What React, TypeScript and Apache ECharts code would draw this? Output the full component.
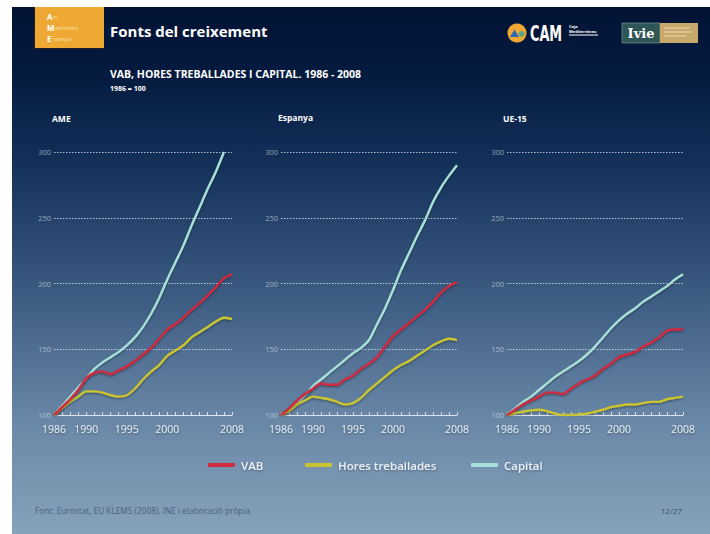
import React, { useEffect, useRef } from "react";
import * as echarts from "echarts";

const years = [1986, 1987, 1988, 1989, 1990, 1991, 1992, 1993, 1994, 1995, 1996, 1997, 1998, 1999, 2000, 2001, 2002, 2003, 2004, 2005, 2006, 2007, 2008];
const yearLabels = [1986, 1990, 1995, 2000, 2008];
const seriesNames = ["VAB", "Hores treballades", "Capital"];
const panelTitles = ["AME", "Espanya", "UE-15"];

const ameVAB = [100, 106, 112, 119, 128, 132, 133, 131, 134, 137, 141, 146, 151, 158, 165, 169, 174, 180, 185, 191, 197, 204, 207];
const ameHores = [100, 105, 110, 114, 118, 118, 117, 115, 114, 115, 120, 127, 133, 138, 145, 149, 153, 159, 163, 167, 171, 174, 173];
const ameCapital = [100, 107, 114, 121, 128, 135, 140, 144, 148, 153, 159, 167, 177, 189, 203, 216, 229, 244, 258, 272, 285, 300, null];

const espVAB = [100, 105, 111, 116, 120, 124, 123, 123, 127, 130, 135, 139, 144, 152, 160, 165, 170, 175, 180, 186, 193, 198, 201];
const espHores = [100, 103, 108, 111, 114, 113, 112, 110, 108, 109, 113, 119, 124, 129, 134, 138, 141, 145, 149, 153, 156, 158, 157];
const espCapital = [100, 104, 109, 115, 122, 127, 132, 137, 142, 147, 151, 157, 169, 181, 195, 210, 223, 236, 248, 262, 273, 282, 290];

const ueVAB = [100, 104, 108, 111, 114, 117, 117, 116, 120, 124, 127, 130, 135, 139, 144, 146, 148, 152, 155, 159, 164, 165, 165];
const ueHores = [100, 101.5, 102.5, 103.5, 104, 103, 101, 100, 100, 100.5, 101, 102.5, 104, 106, 107, 108, 108, 109, 110, 110, 112, 113, 114];
const ueCapital = [100, 105, 110, 114, 119, 124, 129, 133, 137, 141, 146, 152, 159, 166, 172, 177, 181, 186, 190, 194, 198, 203, 207];

const panels = [
  [ameVAB, ameHores, ameCapital],
  [espVAB, espHores, espCapital],
  [ueVAB, ueHores, ueCapital],
];

const colors = ["#cf2a40", "#c9c431", "#a6e0d8"];
const FONT = "'Open Sans', 'DejaVu Sans', sans-serif";

export default function App() {
  const ref = useRef<HTMLDivElement>(null);
  useEffect(() => {
    if (!ref.current) return;
    const chart = echarts.init(ref.current, null, { renderer: "svg" });
    const gridLeft = [54, 281, 507];
    const gridW = [178, 176, 176];
    const grids = gridLeft.map((l, i) => ({ left: l, top: 152, width: gridW[i], height: 263 }));
    const xAxes = grids.map((_, i) => ({
      type: "value",
      gridIndex: i,
      min: 1986,
      max: 2008,
      interval: 1,
      axisLine: { lineStyle: { color: "rgba(235,240,248,0.85)", width: 1 } },
      axisTick: { inside: true, length: 3, lineStyle: { color: "rgba(235,240,248,0.85)" } },
      axisLabel: {
        color: "#e4ebf3",
        fontSize: 10.5,
        fontFamily: FONT,
        margin: 8,
        showMinLabel: true,
        showMaxLabel: true,
        textShadowColor: "rgba(0,0,0,0.35)",
        textShadowBlur: 2,
        textShadowOffsetY: 1,
        formatter: (v: number) => (yearLabels.includes(v) ? String(v) : ""),
      },
      splitLine: { show: false },
    }));
    const yAxes = grids.map((_, i) => ({
      type: "value",
      gridIndex: i,
      min: 100,
      max: 300,
      interval: 50,
      axisLine: { show: false },
      axisTick: { show: false },
      axisLabel: { color: "rgba(225,232,242,0.6)", fontSize: 7.5, fontFamily: FONT, margin: 3 },
      splitLine: { show: true, lineStyle: { color: "rgba(235,240,248,0.75)", type: [1.5, 1.5], width: 1 } },
    }));
    const series: any[] = [];
    panels.forEach((p, gi) => {
      p.forEach((vals, si) => {
        series.push({
          type: "line",
          name: seriesNames[si],
          xAxisIndex: gi,
          yAxisIndex: gi,
          data: years.map((y, k) => [y, vals[k]]),
          smooth: 0.3,
          showSymbol: false,
          symbol: "none",
          z: si === 2 ? 3 : 4 - si + 2,
          lineStyle: {
            color: colors[si],
            width: 2.4,
            shadowColor: "rgba(0,0,0,0.45)",
            shadowBlur: 2,
            shadowOffsetY: 1,
          },
          itemStyle: { color: colors[si] },
        });
      });
    });
    const legendPos = [203, 300, 466];
    const legends = seriesNames.map((n, i) => ({
      data: [{ name: n, icon: "roundRect" }],
      left: legendPos[i],
      top: 454,
      itemWidth: 27,
      itemHeight: 4,
      itemGap: 0,
      selectedMode: false,
      textStyle: {
        color: "#e8eef5",
        fontSize: 11.5,
        fontWeight: 600,
        fontFamily: FONT,
        textShadowColor: "rgba(0,0,0,0.35)",
        textShadowBlur: 2,
        textShadowOffsetY: 1,
        padding: [0, 0, 0, 1],
      },
    }));
    const graphic: any[] = [
      {
        type: "rect",
        z: -10,
        shape: { x: 12, y: 7, width: 698, height: 527 },
        style: {
          fill: new echarts.graphic.LinearGradient(0, 0, 0, 1, [
            { offset: 0, color: "#021335" },
            { offset: 0.12, color: "#041a3e" },
            { offset: 0.3, color: "#14315a" },
            { offset: 0.55, color: "#3d5c82" },
            { offset: 0.78, color: "#6886a6" },
            { offset: 1, color: "#87a3bb" },
          ]),
        },
        silent: true,
      },
      // AME logo
      { type: "rect", z: -5, shape: { x: 34, y: 7, width: 70, height: 42 }, style: { fill: "#3a2a10", opacity: 0.5 } },
      { type: "rect", z: -4, shape: { x: 35, y: 7, width: 69, height: 41 }, style: { fill: "#eea934" } },
      { type: "text", x: 47, y: 16, style: { text: "A", fill: "#ffffff", font: `bold 8px ${FONT}`, verticalAlign: "middle" } },
      { type: "text", x: 53, y: 16.5, style: { text: "rc", fill: "#fbe2b0", font: `5px ${FONT}`, verticalAlign: "middle" } },
      { type: "text", x: 47, y: 27, style: { text: "M", fill: "#ffffff", font: `bold 8px ${FONT}`, verticalAlign: "middle" } },
      { type: "text", x: 55, y: 27.5, style: { text: "editerrani", fill: "#fbe2b0", font: `5px ${FONT}`, verticalAlign: "middle" } },
      { type: "text", x: 47, y: 38, style: { text: "E", fill: "#ffffff", font: `bold 8px ${FONT}`, verticalAlign: "middle" } },
      { type: "text", x: 53, y: 38.5, style: { text: "spanyol", fill: "#fbe2b0", font: `5px ${FONT}`, verticalAlign: "middle" } },
      // Titles
      { type: "text", x: 110, y: 31, style: { text: "Fonts del creixement", fill: "#ffffff", font: `bold 15px ${FONT}`, verticalAlign: "middle" } },
      { type: "text", x: 110, y: 74, style: { text: "VAB, HORES TREBALLADES I CAPITAL. 1986 - 2008", fill: "#ffffff", font: `bold 10.5px ${FONT}`, verticalAlign: "middle" } },
      { type: "text", x: 110, y: 88, style: { text: "1986 = 100", fill: "#ffffff", font: `bold 7px ${FONT}`, verticalAlign: "middle" } },
      // Panel titles
      { type: "text", x: 52, y: 118, style: { text: panelTitles[0], fill: "#ffffff", font: `bold 8.5px ${FONT}`, verticalAlign: "middle" } },
      { type: "text", x: 278, y: 117, style: { text: panelTitles[1], fill: "#ffffff", font: `bold 8.5px ${FONT}`, verticalAlign: "middle" } },
      { type: "text", x: 503, y: 118, style: { text: panelTitles[2], fill: "#ffffff", font: `bold 8.5px ${FONT}`, verticalAlign: "middle" } },
      // CAM logo
      { type: "circle", shape: { cx: 517, cy: 33, r: 9.5 }, style: { fill: "#f0a832" } },
      { type: "polygon", shape: { points: [[510, 37], [514.5, 29.5], [519, 37]] }, style: { fill: "#2f68b0" } },
      { type: "circle", shape: { cx: 521.5, cy: 34, r: 3 }, style: { fill: "#5aa585" } },
      { type: "text", x: 530, y: 33, scaleX: 0.68, style: { text: "CAM", fill: "#ffffff", font: `bold 21px 'DejaVu Sans Condensed', 'Liberation Sans', sans-serif`, verticalAlign: "middle" } },
      { type: "text", x: 569, y: 26, style: { text: "Caja", fill: "#ffffff", font: `bold 4px ${FONT}`, verticalAlign: "middle", lineHeight: 4 } },
      { type: "text", x: 569, y: 31.5, style: { text: "Mediterráneo", fill: "#ffffff", font: `bold 4px ${FONT}`, verticalAlign: "middle", lineHeight: 4 } },
      { type: "line", shape: { x1: 569, y1: 35, x2: 598, y2: 35 }, style: { stroke: "#ffffff", lineWidth: 1 } },
      // Ivie logo
      { type: "rect", shape: { x: 622, y: 23, width: 38, height: 20 }, style: { fill: "#2f5656", stroke: "#6a8a86", lineWidth: 0.8 } },
      { type: "text", x: 641, y: 33.5, style: { text: "Ivie", fill: "#ffffff", font: `bold 13px 'DejaVu Serif', 'Liberation Serif', serif`, align: "center", verticalAlign: "middle" } },
      { type: "rect", shape: { x: 660, y: 23, width: 38, height: 20 }, style: { fill: "#c8a96c" } },
      { type: "line", shape: { x1: 664, y1: 28, x2: 690, y2: 28 }, style: { stroke: "#e6d3aa", lineWidth: 1.2 } },
      { type: "line", shape: { x1: 664, y1: 32, x2: 692, y2: 32 }, style: { stroke: "#e6d3aa", lineWidth: 1.2 } },
      { type: "line", shape: { x1: 664, y1: 36, x2: 686, y2: 36 }, style: { stroke: "#e6d3aa", lineWidth: 1.2 } },
      // footer
      { type: "text", x: 35, y: 510, style: { text: "Font: Eurostat, EU KLEMS (2008), INE i elaboració pròpia", fill: "#4b6079", font: `8.3px ${FONT}`, verticalAlign: "middle" } },
      { type: "text", x: 682, y: 510, style: { text: "12/27", fill: "#3f536b", font: `8px ${FONT}`, align: "right", verticalAlign: "middle" } },
    ];
    chart.setOption({
      animation: false,
      grid: grids,
      xAxis: xAxes,
      yAxis: yAxes,
      legend: legends,
      series,
      graphic,
    });
    return () => chart.dispose();
  }, []);
  return (
    <div
      ref={ref}
      style={{ position: "fixed", left: 0, top: 0, width: 710, height: 534, background: "#ffffff" }}
    />
  );
}
